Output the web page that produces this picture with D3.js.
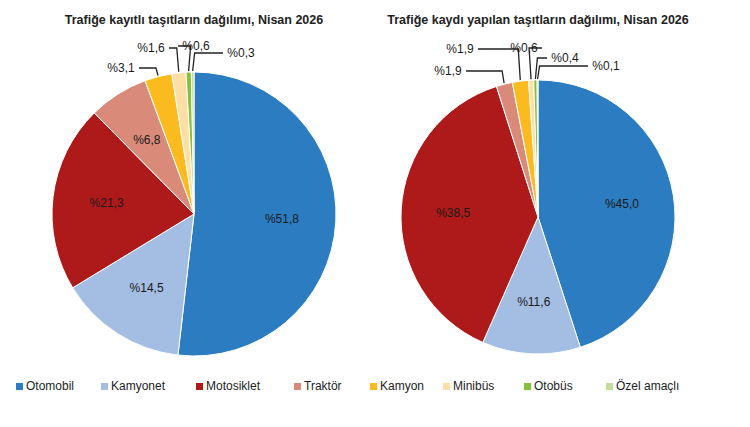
<!doctype html>
<html lang="tr">
<head>
<meta charset="UTF-8">
<script src="https://cdnjs.cloudflare.com/ajax/libs/d3/7.0.0/d3.min.js"></script>
<style>body{margin:0;background:#fff;font-family:Arial,"Liberation Sans",sans-serif;}</style>
</head>
<body>
<div id="Area"></div>
<script>
const categories = ["Otomobil","Kamyonet","Motosiklet","Traktör","Kamyon","Minibüs","Otobüs","Özel amaçlı"];
const colors = ["#2b7cc1","#a4bde2","#ae1919","#d98a78","#fbbb1f","#fddfa6","#86c13a","#c6dc9c"];
const registered = [51.8,14.5,21.3,6.8,3.1,1.6,0.6,0.3];
const newlyRegistered = [45.0,11.6,38.5,1.9,1.9,0.6,0.4,0.1];
const titles = ["Trafiğe kayıtlı taşıtların dağılımı, Nisan 2026","Trafiğe kaydı yapılan taşıtların dağılımı, Nisan 2026"];
// outside label spots for the small slices: [index, x, y, anchor]
const leftOutside = [[4,121,72,"middle"],[5,151,52,"middle"],[6,196,50,"middle"],[7,241,57,"middle"]];
const rightOutside = [[3,448,75,"middle"],[4,460,53,"middle"],[5,524,52,"middle"],[6,565,62,"middle"],[7,606,70,"middle"]];

const svg = d3.select("#Area").append("svg").attr("width",750).attr("height",427);
const fmt = v => "%" + v.toFixed(1).replace(".", ",");

function drawPie(values, cx, cy, r, title, outside){
  const g = svg.append("g").attr("transform","translate("+cx+","+cy+")");
  const arcs = d3.pie().sort(null)(values);
  const arc = d3.arc().innerRadius(0).outerRadius(r);
  g.selectAll("path").data(arcs).join("path")
    .attr("d",arc).attr("fill",(d,i)=>colors[i])
    .attr("stroke","#fff").attr("stroke-width",1);
  const inner = d3.arc().innerRadius(r*0.62).outerRadius(r*0.62);
  const outIdx = outside.map(o=>o[0]);
  g.selectAll("text.in").data(arcs.filter((d,i)=>!outIdx.includes(i))).join("text")
    .attr("class","in")
    .attr("transform",d=>"translate("+inner.centroid(d)+")")
    .attr("text-anchor","middle").attr("dy","0.35em")
    .attr("font-size",12).attr("fill","#1a1a1a").text(d=>fmt(d.data));
  const edge = d3.arc().innerRadius(r+1).outerRadius(r+1);
  outside.forEach(([i,x,y,a])=>{
    const p = edge.centroid(arcs[i]);
    const lx = x - cx, ly = y - cy;
    const left = lx < p[0];
    const sx = left ? lx + 18 : lx - 18;
    svg.append("polyline")
      .attr("points",[[sx+cx,ly-4+cy],[p[0]+cx+(left?-2:2),ly-4+cy],[p[0]+cx,p[1]+cy]].map(q=>q.join(",")).join(" "))
      .attr("fill","none").attr("stroke","#222").attr("stroke-width",1.3);
    svg.append("text").attr("x",x).attr("y",y).attr("text-anchor",a)
      .attr("font-size",12).attr("fill","#1a1a1a").text(fmt(values[i]));
  });
  svg.append("text").attr("x",cx).attr("y",24).attr("text-anchor","middle")
    .attr("font-size",12.5).attr("font-weight","bold").attr("fill","#222").text(title);
}

drawPie(registered,194,214,142,titles[0],leftOutside);
drawPie(newlyRegistered,538,217,137,titles[1],rightOutside);

const legendX = [16,101,196,294,370,443,524,606];
const lg = svg.append("g");
categories.forEach((c,i)=>{
  lg.append("rect").attr("x",legendX[i]).attr("y",383).attr("width",7).attr("height",7).attr("fill",colors[i]);
  lg.append("text").attr("x",legendX[i]+10).attr("y",390).attr("font-size",12).attr("fill","#222").text(c);
});
</script>
</body>
</html>
